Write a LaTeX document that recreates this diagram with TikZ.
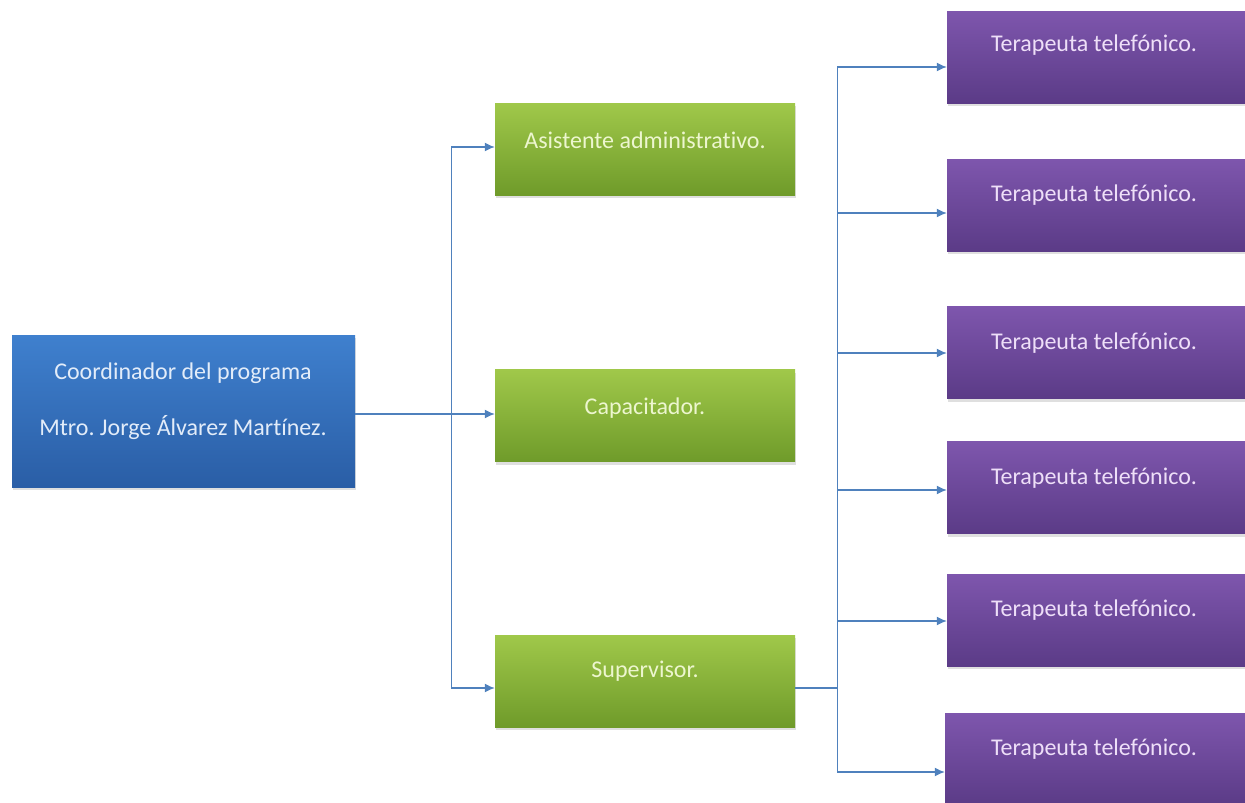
\documentclass[tikz,border=0pt]{standalone}
\usepackage{fontspec}
\setmainfont{Carlito}[Ligatures=NoCommon]
\usetikzlibrary{arrows.meta,shadows,calc}
\frenchspacing
\definecolor{lineblue}{HTML}{4F81BD}
\definecolor{bluetop}{HTML}{3F80CE}
\definecolor{bluebot}{HTML}{2A5EA6}
\definecolor{greentop}{HTML}{A0C84A}
\definecolor{greenbot}{HTML}{6F9B2A}
\definecolor{purptop}{HTML}{7E56AD}
\definecolor{purpbot}{HTML}{5B3B87}
\definecolor{bluetext}{HTML}{E2ECF9}
\definecolor{greentext}{HTML}{EDF6CF}
\definecolor{purptext}{HTML}{EEDFF8}
\tikzset{
  boxbase/.style={rectangle, draw=none, inner sep=0pt,
    drop shadow={opacity=0.25, shadow xshift=1pt, shadow yshift=-3pt}},
  bluebox/.style={boxbase, top color=bluetop, bottom color=bluebot,
    minimum width=343pt, minimum height=152pt},
  greenbox/.style={boxbase, top color=greentop, bottom color=greenbot,
    minimum width=300pt, minimum height=92pt},
  purpbox/.style={boxbase, top color=purptop, bottom color=purpbot,
    minimum width=300pt, minimum height=92pt},
  boxtext/.style={font=\fontsize{24pt}{28pt}\selectfont, inner sep=0pt, anchor=center},
  conn/.style={draw=lineblue, line width=1.4pt},
  arr/.style={conn, -{Latex[length=10pt,width=9pt]}}
}
\begin{document}
\begin{tikzpicture}[x=1pt,y=-1pt]
\useasboundingbox (0,0) rectangle (1245,803);
% boxes
\node[bluebox] (coord) at (183.5,411) {};
\node[boxtext, text=bluetext] (coordt1) at (183,373) {Coordinador del programa};
\node[boxtext, text=bluetext] (coordt2) at (183,428) {Mtro. Jorge Álvarez Martínez.};

\node[greenbox] (asis) at (645,149) {};
\node[boxtext, text=greentext] (asist) at (645,140) {Asistente administrativo.};
\node[greenbox] (cap) at (645,415.5) {};
\node[boxtext, text=greentext] (capt) at (645,408) {Capacitador.};
\node[greenbox] (sup) at (645,681) {};
\node[boxtext, text=greentext] (supt) at (645,671) {Supervisor.};

\node[purpbox] (p1) at (1097,57) {};
\node[boxtext, text=purptext] (p1t) at (1094,45) {Terapeuta telefónico.};
\node[purpbox] (p2) at (1097,205) {};
\node[boxtext, text=purptext] (p2t) at (1094,195) {Terapeuta telefónico.};
\node[purpbox] (p3) at (1097,352.5) {};
\node[boxtext, text=purptext] (p3t) at (1094,343) {Terapeuta telefónico.};
\node[purpbox] (p4) at (1097,487.5) {};
\node[boxtext, text=purptext] (p4t) at (1094,478) {Terapeuta telefónico.};
\node[purpbox] (p5) at (1097,620) {};
\node[boxtext, text=purptext] (p5t) at (1094,610) {Terapeuta telefónico.};
\node[purpbox] (p6) at (1095,759) {};
\node[boxtext, text=purptext] (p6t) at (1094,749) {Terapeuta telefónico.};

% connectors: coordinator -> level 2
\coordinate (j1) at ($(coord.east)+(96,3)$);
\draw[conn] ($(coord.east)+(0,3)$) -- (j1);
\draw[arr] (j1) -- (j1 -| cap.west);
\draw[arr] (j1) |- ($(asis.west)+(0,-2)$);
\draw[arr] (j1) |- ($(sup.west)+(0,7)$);

% supervisor -> therapists
\coordinate (j2) at ($(sup.east)+(42,7)$);
\draw[conn] ($(sup.east)+(0,7)$) -- (j2);
\draw[arr] (j2) |- ($(p1.west)+(0,10)$);
\draw[arr] (j2) |- ($(p2.west)+(0,8)$);
\draw[arr] (j2) |- ($(p3.west)+(0,0.5)$);
\draw[arr] (j2) |- ($(p4.west)+(0,2.5)$);
\draw[arr] (j2) |- ($(p5.west)+(0,1)$);
\draw[arr] (j2) |- ($(p6.west)+(0,13)$);
\end{tikzpicture}
\end{document}
